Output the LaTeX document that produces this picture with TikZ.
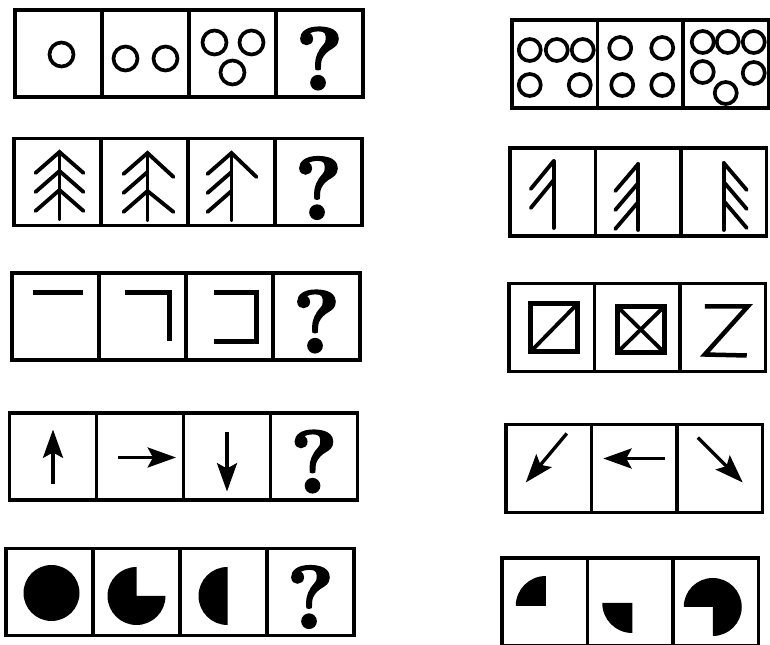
\documentclass[tikz,border=0pt]{standalone}
\usepackage{fontspec}
\newfontfamily\queryfont{lmroman10-bold}[Extension=.otf, FakeBold=2]
\usetikzlibrary{arrows.meta}
\begin{document}
\begin{tikzpicture}[x=0.3mm,y=0.3mm]
      \useasboundingbox (0,0) rectangle (770,645);

      \tikzstyle{cell} = [
        rectangle,
        draw=black,
        line width=1.1mm,
        anchor=west,
        outer sep=0pt,
        inner sep=0pt,
        minimum width=26.1mm,
        minimum height=26.1mm,
      ]
      \tikzstyle{cellR} = [
        cell,
        minimum width=25.65mm,
        minimum height=26.4mm,
      ]
      \tikzstyle{query} = [
        inner sep=0pt,
        font=\fontsize{76}{76}\queryfont
      ]

      \tikzstyle{ring} = [line width=1.1mm]
      \tikzstyle{twig} = [line width=1.15mm, line cap=round]
      \tikzstyle{bar} = [line width=1.35mm]
      \tikzstyle{frame} = [line width=1.45mm]
      \tikzstyle{arrow} = [line width=1mm, -{Stealth[length=8.5mm,width=6mm,inset=1.6mm]}]

      % row origins, left column
      \coordinate (origoL1) at (15,591.5);
      \coordinate (origoL2) at (14,463);
      \coordinate (origoL3) at (12,328.5);
      \coordinate (origoL4) at (9.5,188.5);
      \coordinate (origoL5) at (6,53);
      % row origins, right column
      \coordinate (origoR1) at (512,581);
      \coordinate (origoR2) at (510,453);
      \coordinate (origoR3) at (509,317.5);
      \coordinate (origoR4) at (506,176.5);
      \coordinate (origoR5) at (502,43);

      % circles
      \node[cell] (cellCirc1) at ([xshift=0mm] origoL1) {};
      \node[cell] (cellCirc2) at ([xshift=26.1mm] origoL1) {};
      \node[cell] (cellCirc3) at ([xshift=52.2mm] origoL1) {};
      \node[cell] (cellCirc4) at ([xshift=78.3mm] origoL1) {};
      \draw[ring] ([shift={(3,-1)}] cellCirc1.center) circle (12);
      \draw[ring] ([shift={(-20,-5)}] cellCirc2.center) circle (12);
      \draw[ring] ([shift={(20,-5)}] cellCirc2.center) circle (12);
      \draw[ring] ([shift={(-18,11)}] cellCirc3.center) circle (12);
      \draw[ring] ([shift={(19,11)}] cellCirc3.center) circle (12);
      \draw[ring] ([shift={(0,-19)}] cellCirc3.center) circle (12);
      \node[query] (qCirc) at ([shift={(0,-5)}] cellCirc4.center) {?};

      \node[cellR] (cellCircR1) at ([xshift=0mm] origoR1) {};
      \node[cellR] (cellCircR2) at ([xshift=25.65mm] origoR1) {};
      \node[cellR] (cellCircR3) at ([xshift=51.3mm] origoR1) {};
      \draw[ring] ([shift={(-25,14)}] cellCircR1.center) circle (11);
      \draw[ring] ([shift={(2,14)}] cellCircR1.center) circle (11);
      \draw[ring] ([shift={(28,14)}] cellCircR1.center) circle (11);
      \draw[ring] ([shift={(-25,-21)}] cellCircR1.center) circle (11);
      \draw[ring] ([shift={(25,-21)}] cellCircR1.center) circle (11);
      \draw[ring] ([shift={(-20,16)}] cellCircR2.center) circle (11);
      \draw[ring] ([shift={(22,16)}] cellCircR2.center) circle (11);
      \draw[ring] ([shift={(-18,-21)}] cellCircR2.center) circle (11);
      \draw[ring] ([shift={(22,-21)}] cellCircR2.center) circle (11);
      \draw[ring] ([shift={(-23,22)}] cellCircR3.center) circle (11);
      \draw[ring] ([shift={(2,22)}] cellCircR3.center) circle (11);
      \draw[ring] ([shift={(28,22)}] cellCircR3.center) circle (11);
      \draw[ring] ([shift={(-23,-8)}] cellCircR3.center) circle (11);
      \draw[ring] ([shift={(28,-9)}] cellCircR3.center) circle (11);
      \draw[ring] ([shift={(0,-29)}] cellCircR3.center) circle (11);

      % trees
      \node[cell] (cellTree1) at ([xshift=0mm] origoL2) {};
      \node[cell] (cellTree2) at ([xshift=26.1mm] origoL2) {};
      \node[cell] (cellTree3) at ([xshift=52.2mm] origoL2) {};
      \node[cell] (cellTree4) at ([xshift=78.3mm] origoL2) {};
      \coordinate (tree1top) at ([shift={(2,30)}] cellTree1.center);
      \coordinate (tree2top) at ([shift={(3,29)}] cellTree2.center);
      \coordinate (tree3top) at ([shift={(0,29)}] cellTree3.center);
      \draw[twig] (tree1top) -- ++(0,-67);
      \draw[twig] ([shift={(-24,-21)}] tree1top) -- (tree1top) -- ++(24,-21);
      \draw[twig] ([shift={(-24,-40)}] tree1top) -- ([shift={(0,-19)}] tree1top) -- ++(24,-21);
      \draw[twig] ([shift={(-24,-59)}] tree1top) -- ([shift={(0,-38)}] tree1top) -- ++(24,-21);
      \draw[twig] (tree2top) -- ++(0,-67);
      \draw[twig] ([shift={(-24,-21)}] tree2top) -- (tree2top) -- ++(26,-24);
      \draw[twig] ([shift={(-24,-40)}] tree2top) -- ([shift={(0,-19)}] tree2top);
      \draw[twig] ([shift={(-24,-59)}] tree2top) -- ([shift={(0,-38)}] tree2top) -- ++(26,-21);
      \draw[twig] (tree3top) -- ++(0,-67);
      \draw[twig] ([shift={(-24,-21)}] tree3top) -- (tree3top) -- ++(25,-24);
      \draw[twig] ([shift={(-24,-40)}] tree3top) -- ([shift={(0,-19)}] tree3top);
      \draw[twig] ([shift={(-24,-59)}] tree3top) -- ([shift={(0,-38)}] tree3top);
      \node[query] (qTree) at ([shift={(0,-6)}] cellTree4.center) {?};

      \node[cellR] (cellTreeR1) at ([xshift=0mm] origoR2) {};
      \node[cellR] (cellTreeR2) at ([xshift=25.65mm] origoR2) {};
      \node[cellR] (cellTreeR3) at ([xshift=51.3mm] origoR2) {};
      \coordinate (treeR1top) at ([shift={(1,31)}] cellTreeR1.center);
      \coordinate (treeR2top) at ([shift={(0,28)}] cellTreeR2.center);
      \coordinate (treeR3top) at ([shift={(0,29)}] cellTreeR3.center);
      \draw[twig] (treeR1top) -- ++(0,-67);
      \draw[twig] ([shift={(-23,-28)}] treeR1top) -- (treeR1top);
      \draw[twig] ([shift={(-23,-47)}] treeR1top) -- ([shift={(0,-19)}] treeR1top);
      \draw[twig] (treeR2top) -- ++(0,-66);
      \draw[twig] ([shift={(-23,-27)}] treeR2top) -- (treeR2top);
      \draw[twig] ([shift={(-23,-46)}] treeR2top) -- ([shift={(0,-19)}] treeR2top);
      \draw[twig] ([shift={(-23,-65)}] treeR2top) -- ([shift={(0,-38)}] treeR2top);
      \draw[twig] (treeR3top) -- ++(0,-67);
      \draw[twig] (treeR3top) -- ++(23,-27);
      \draw[twig] ([shift={(0,-19)}] treeR3top) -- ++(23,-27);
      \draw[twig] ([shift={(0,-38)}] treeR3top) -- ++(23,-27);

      % bars
      \node[cell] (cellBar1) at ([xshift=0mm] origoL3) {};
      \node[cell] (cellBar2) at ([xshift=26.1mm] origoL3) {};
      \node[cell] (cellBar3) at ([xshift=52.2mm] origoL3) {};
      \node[cell] (cellBar4) at ([xshift=78.3mm] origoL3) {};
      \draw[bar] ([shift={(-23,24)}] cellBar1.center) -- ([shift={(27,24)}] cellBar1.center);
      \draw[bar] ([shift={(-18,24)}] cellBar2.center) -- ([shift={(27,24)}] cellBar2.center) -- ([shift={(27,-25)}] cellBar2.center);
      \draw[bar] ([shift={(-16,24)}] cellBar3.center) -- ([shift={(27,24)}] cellBar3.center) -- ([shift={(27,-25)}] cellBar3.center) -- ([shift={(-16,-25)}] cellBar3.center);
      \node[query] (qBar) at ([shift={(0,-5)}] cellBar4.center) {?};

      \node[cellR] (cellBox1) at ([xshift=0mm] origoR3) {};
      \node[cellR] (cellBox2) at ([xshift=25.65mm] origoR3) {};
      \node[cellR] (cellBox3) at ([xshift=51.3mm] origoR3) {};
      \draw[frame] ([shift={(-21,24)}] cellBox1.center) rectangle ([shift={(26,-24)}] cellBox1.center);
      \draw[twig] ([shift={(-21,-24)}] cellBox1.center) -- ([shift={(26,24)}] cellBox1.center);
      \draw[frame] ([shift={(-20,21)}] cellBox2.center) rectangle ([shift={(27,-25)}] cellBox2.center);
      \draw[twig] ([shift={(-20,-25)}] cellBox2.center) -- ([shift={(27,21)}] cellBox2.center);
      \draw[twig] ([shift={(-20,21)}] cellBox2.center) -- ([shift={(27,-25)}] cellBox2.center);
      \draw[bar] ([shift={(-18,21)}] cellBox3.center) -- ([shift={(25,21)}] cellBox3.center) -- ([shift={(-18,-27)}] cellBox3.center) -- ([shift={(24,-28)}] cellBox3.center);

      % arrows
      \node[cell] (cellArr1) at ([xshift=0mm] origoL4) {};
      \node[cell] (cellArr2) at ([xshift=26.1mm] origoL4) {};
      \node[cell] (cellArr3) at ([xshift=52.2mm] origoL4) {};
      \node[cell] (cellArr4) at ([xshift=78.3mm] origoL4) {};
      \draw[arrow] ([shift={(0,-28)}] cellArr1.center) -- ([shift={(0,27)}] cellArr1.center);
      \draw[arrow] ([shift={(-22,-1)}] cellArr2.center) -- ([shift={(36,-1)}] cellArr2.center);
      \draw[arrow] ([shift={(0,24)}] cellArr3.center) -- ([shift={(0,-35)}] cellArr3.center);
      \node[query] (qArr) at ([shift={(0,-5)}] cellArr4.center) {?};

      \node[cellR] (cellArrR1) at ([xshift=0mm] origoR4) {};
      \node[cellR] (cellArrR2) at ([xshift=25.65mm] origoR4) {};
      \node[cellR] (cellArrR3) at ([xshift=51.3mm] origoR4) {};
      \draw[arrow] ([shift={(18,35)}] cellArrR1.center) -- ([shift={(-23,-14)}] cellArrR1.center);
      \draw[arrow] ([shift={(31,10)}] cellArrR2.center) -- ([shift={(-31,10)}] cellArrR2.center);
      \draw[arrow] ([shift={(-22,31)}] cellArrR3.center) -- ([shift={(23,-14)}] cellArrR3.center);

      % pies
      \node[cell] (cellPie1) at ([xshift=0mm] origoL5) {};
      \node[cell] (cellPie2) at ([xshift=26.1mm] origoL5) {};
      \node[cell] (cellPie3) at ([xshift=52.2mm] origoL5) {};
      \node[cell] (cellPie4) at ([xshift=78.3mm] origoL5) {};
      \fill ([shift={(2,-1)}] cellPie1.center) circle (28);
      \fill ([shift={(0,-4)}] cellPie2.center) -- ++(90:29) arc[start angle=90, end angle=360, radius=29] -- cycle;
      \fill ([shift={(4,-4)}] cellPie3.center) -- ++(90:29) arc[start angle=90, end angle=270, radius=29] -- cycle;
      \node[query] (qPie) at ([shift={(0,-5)}] cellPie4.center) {?};

      \node[cellR] (cellPieR1) at ([xshift=0mm] origoR5) {};
      \node[cellR] (cellPieR2) at ([xshift=25.65mm] origoR5) {};
      \node[cellR] (cellPieR3) at ([xshift=51.3mm] origoR5) {};
      \fill ([shift={(1,-4)}] cellPieR1.center) -- ++(90:30) arc[start angle=90, end angle=180, radius=30] -- cycle;
      \fill ([shift={(2,-1)}] cellPieR2.center) -- ++(180:30) arc[start angle=180, end angle=270, radius=30] -- cycle;
      \fill ([shift={(-3,-5)}] cellPieR3.center) -- ++(270:29) arc[start angle=270, end angle=540, radius=29] -- cycle;
    \end{tikzpicture}
\end{document}
